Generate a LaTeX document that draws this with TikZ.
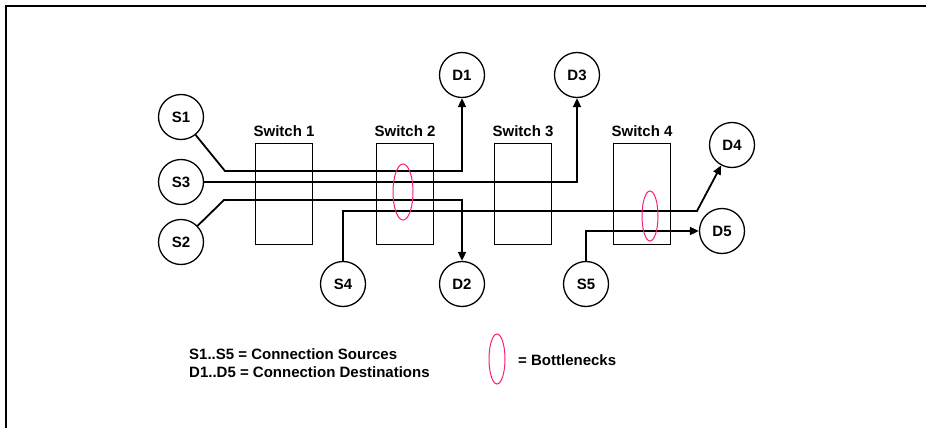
\documentclass[tikz,border=0pt]{standalone}
\usepackage{fontspec}
\setmainfont{Liberation Sans}
\usetikzlibrary{arrows.meta,positioning,shapes.geometric}
\definecolor{bnpink}{HTML}{F5207A}
\tikzset{
  host/.style={draw, circle, line width=1.3pt, minimum size=45pt, inner sep=0pt, font=\fontsize{15}{17}\selectfont\bfseries},
  switchbox/.style={draw, line width=1.3pt, minimum width=57pt, minimum height=101pt, inner sep=0pt},
  swlbl/.style={font=\fontsize{15}{17}\selectfont\bfseries},
  conn/.style={line width=1.8pt, line join=miter},
  arr/.style={conn, -{Triangle[length=9pt, width=8pt]}},
  bneck/.style={draw=bnpink, ellipse, line width=1pt, inner sep=0pt},
  lgd/.style={font=\fontsize{15}{17}\selectfont\bfseries, anchor=west, inner sep=0pt},
}
\begin{document}
\begin{tikzpicture}[x=1pt, y=-1pt]
  \useasboundingbox (0,0) rectangle (926,428);
  % frame
  \draw[line width=2pt] (6,428) -- (6,6) -- (926,6);
  % switches
  \foreach \n/\x in {1/284, 2/405, 3/523, 4/642}{
    \node[switchbox] (sw\n) at (\x,194) {};
    \node[swlbl, above=3pt of sw\n] (swl\n) {Switch \n};
  }
  % sources and destinations
  \node[host] (s1) at (181,117) {S1};
  \node[host] (s3) at (181,182) {S3};
  \node[host] (s2) at (181,242) {S2};
  \node[host] (s4) at (343,284) {S4};
  \node[host] (s5) at (586,284) {S5};
  \node[host] (d1) at (462,75) {D1};
  \node[host] (d2) at (462,284) {D2};
  \node[host] (d3) at (577,75) {D3};
  \node[host] (d4) at (732,145) {D4};
  \node[host] (d5) at (722,231) {D5};
  % bends
  \coordinate (b1) at (225,171);
  \coordinate (b2) at (224,200);
  \coordinate (b4) at (697,211);
  % connections
  \draw[arr] (s1) -- (b1) -| (d1);
  \draw[arr] (s3) -| (d3);
  \draw[arr] (s2) -- (b2) -| (d2);
  \draw[arr] (s4) |- (b4) -- (d4);
  \draw[arr] (s5) |- (d5);
  % bottlenecks
  \node[bneck, minimum width=20pt, minimum height=56pt] (bn1) at (403,192) {};
  \node[bneck, minimum width=16pt, minimum height=50pt] (bn2) at (650,216) {};
  % legend
  \node[lgd] (lg1) at (189,354) {S1..S5 = Connection Sources};
  \node[lgd] (lg2) at (189,372) {D1..D5 = Connection Destinations};
  \node[bneck, minimum width=16pt, minimum height=50pt] (lgb) at (497,359) {};
  \node[lgd] (lg3) at (518,360) {= Bottlenecks};
\end{tikzpicture}
\end{document}
